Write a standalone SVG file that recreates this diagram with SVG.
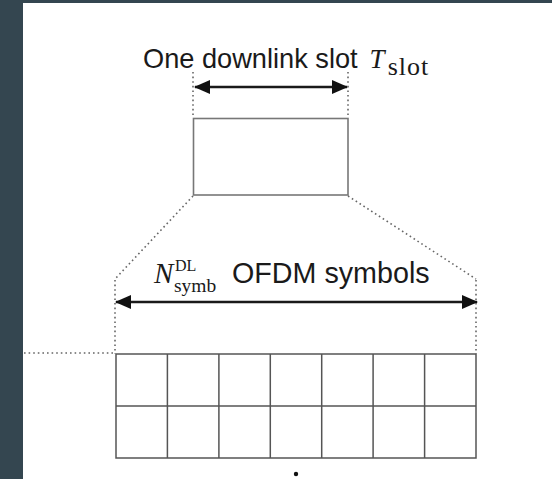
<svg xmlns="http://www.w3.org/2000/svg" width="552" height="479" viewBox="0 0 552 479">
<style>
.sans{font-family:"Liberation Sans",Arial,sans-serif;fill:#1a1a1a}
.serif{font-family:"Liberation Serif","Times New Roman",serif;fill:#1a1a1a}
.dot{stroke:#666;stroke-width:1.6;stroke-dasharray:1.6 3;fill:none}
.arr{stroke:#1a1a1a;stroke-width:2.5;fill:none}
.box{stroke:#777;stroke-width:1.6;fill:#fff}
.grid{stroke:#555;stroke-width:1.5;fill:none}
</style>
<defs>
<marker id="ah" viewBox="0 0 16 14" refX="15" refY="7" markerWidth="16" markerHeight="14" markerUnits="userSpaceOnUse" orient="auto-start-reverse">
<path d="M0,0 L16,7 L0,14 Z" fill="#111"/>
</marker>
</defs>
<rect x="0" y="0" width="552" height="479" fill="#ffffff"/>
<rect x="0" y="0" width="23" height="479" fill="#344650"/>
<rect x="0" y="0" width="552" height="3" fill="#344650"/>

<g id="slot-label">
<text class="sans" x="143" y="68" font-size="27.2">One downlink slot<tspan class="serif" font-style="italic" font-size="27" dx="12">T</tspan><tspan class="serif" font-size="26" dx="3" dy="7" letter-spacing="1">slot</tspan></text>
</g>

<g id="slot-box">
<rect class="box" x="193.5" y="118.5" width="154.5" height="76.5"/>
</g>

<g id="symbols-label">
<text class="serif" x="154" y="283" font-size="29" font-style="italic">N</text>
<text class="serif" x="175" y="271" font-size="16">DL</text>
<text class="serif" x="174" y="292" font-size="19.5">symb</text>
<text class="sans" x="232" y="283" font-size="28.7">OFDM symbols</text>
</g>

<g id="symbol-grid">
<rect class="grid" x="116" y="354" width="360" height="104"/>
<path class="grid" d="M116,406H476 M167.4,354V458 M218.9,354V458 M270.3,354V458 M321.7,354V458 M373.1,354V458 M424.6,354V458"/>
</g>

<g id="dot">
<circle cx="296" cy="474" r="2.2" fill="#111"/>
</g>

<g id="connectors">
<line class="arr" x1="195" y1="87" x2="347" y2="87" marker-start="url(#ah)" marker-end="url(#ah)"/>
<line class="arr" x1="116" y1="302" x2="477" y2="302" marker-start="url(#ah)" marker-end="url(#ah)"/>
<path class="dot" d="M193,72V118 M348,72V118"/>
<path class="dot" d="M115,280V354 M476,280V354"/>
<path class="dot" d="M193,196L115,279 M348,196L476,279"/>
<path class="dot" d="M24,353H116"/>
</g>
</svg>
